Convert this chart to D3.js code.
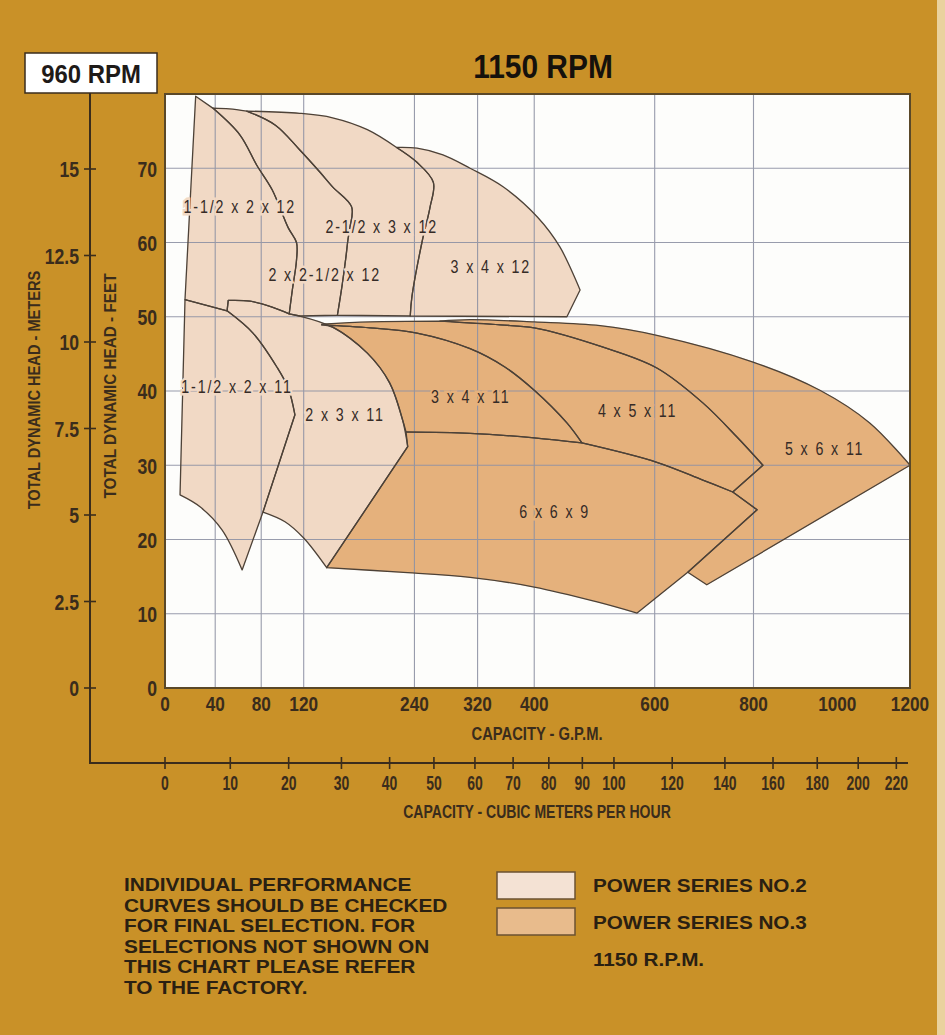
<!DOCTYPE html>
<html><head><meta charset="utf-8">
<script src="https://cdn.jsdelivr.net/npm/d3@7"></script>
<style>body{margin:0;background:#C99128;}svg{display:block}</style>
</head><body><svg id="c" width="945" height="1035"></svg>
<script>
// ---------- DATA ----------
const gpmTicks = [0,40,80,120,240,320,400,600,800,1000,1200];
const gpmGrid = [40,80,120,240,320,400,600,800];
const feetTicks = [0,10,20,30,40,50,60,70];
const feetGrid = [10,20,30,40,50,60,70];
const meterTicks = [0,2.5,5,7.5,10,12.5,15];
const m3hTicks = [0,10,20,30,40,50,60,70,80,90,100,120,140,160,180,200,220];

// boundary edges of the coverage regions: [capacity GPM, head ft]
// 12" impeller group (Power Series No.2)
const edgeL12   = [[15.5,52.3],[24,79.7]];
const edgeT0    = [[24,79.7],[38,78.1]];
const edgeT1    = [[38,78.1],[52,78.0],[67,77.7]];
const edgeT2    = [[67,77.7],[116,77.4],[149,76.8],[186,75.2],[219,72.8]];
const edgeT3    = [[219,72.8],[243,72.7],[275,71.8],[310,70],[355,67.5],[405,63.4],[439,59.4],[471,53.6]];
const edgeR3    = [[471,53.6],[450,50]];
const edgeD1    = [[38,78.1],[61,74.5],[76,70.4],[90,67.1],[105,62],[113,60],[113,57.6],[109,53.6],[106,50.4]];
const edgeD2    = [[67,77.7],[93,75.8],[116,72.5],[136,69.5],[149,67.5],[169,64.8],[167,61.9],[165,60.3],[163,58.1],[159,54.3],[154,50.2]];
const edgeD3    = [[219,72.8],[243,70.8],[263,68.1],[259,64.8],[249,60],[237,52.7],[235,50.1]];
const edgeB12a  = [[450,50],[235,50.1]];
const edgeB12b  = [[235,50.1],[154,50.2]];
const edgeB12c  = [[154,50.2],[116,50.1]];
// 11" small pumps (Power Series No.2)
const edgeJog   = [[50,50.8],[51,52.2]];
const edgeT11b1 = [[51,52.2],[70,52.1],[90,51.3],[106,50.4]];
const edgeT11b2 = [[106,50.4],[116,50.1]];
const edgeT11c  = [[116,50.1],[149,48.6],[186,45.1],[211,41.1],[226,36.1],[232,32.5]];
const edgeT11a1 = [[15.5,52.3],[50,50.8]];
const edgeT11a2 = [[50,50.8],[72.6,47.8],[94.5,43.2],[105,40.4],[111.5,36.8]];
const edgeR11a1 = [[111.5,36.8],[81.6,23.7]];
const edgeR11a2 = [[81.6,23.7],[63,15.9]];
const edgeB11a  = [[63,15.9],[45.7,21.3],[27.5,24.4],[11.6,26]];
const edgeL11a  = [[11.6,26],[15.5,52.3]];
const edgeR2x3  = [[232,32.5],[143,16.2]];
const edgeB2x3  = [[143,16.2],[120,20.2],[102,22.4],[81.6,23.7]];
// Power Series No.3
const edgeTop5a = [[138,49],[189,49.3],[271,49.4]];
const edgeTop5b = [[271,49.4],[310,49.6],[400,49.3],[504,48.8],[604,47.5],[799,43.9],[956,40.1],[1086,35.7],[1200,30]];
const edgeR5a   = [[1200,30],[701,13.9]];
const edgeR5b   = [[701,13.9],[663,15.6]];
const edgeCurveB= [[271,49.4],[351,48.9],[400,48.5],[509,45.9],[604,43.1],[693,38.4],[764,33.8],[821,30]];
const edgeCurveA= [[138,48.9],[189,48.5],[243,47.8],[310,45.7],[358,43.2],[400,40.1],[450,35.7],[474,33]];
const edgeTip4  = [[821,30],[755,26.4]];
const edgeTop9a = [[230,34.5],[310,34.3],[400,33.7],[474,33]];
const edgeTop9b = [[474,33],[604,30.4],[693,28],[755,26.4]];
const edgeTop9c = [[755,26.4],[808,24]];
const edgeR9a   = [[808,24],[663,15.6]];
const edgeR9b   = [[663,15.6],[568,10.1]];
const edgeB9    = [[568,10.1],[499,11.6],[400,13.6],[310,14.9],[223,15.6],[143,16.2]];
const edgeL9a   = [[143,16.2],[232,32.5]];
const edgeL9b   = [[232,32.5],[230,34.5]];
const edgeL3x4  = [[230,34.5],[226,36.1],[211,41.1],[186,45.1],[149,48.6],[138,48.9]];
const edgeL4x5  = [[138,48.9],[138,49]];

const labelNames  = ["1-1/2 x 2 x 12","2-1/2 x 3 x 12","2 x 2-1/2 x 12","3 x 4 x 12","1-1/2 x 2 x 11","2 x 3 x 11","3 x 4 x 11","4 x 5 x 11","5 x 6 x 11","6 x 6 x 9"];
const labelGpm    = [61,202,141,338,58.5,162,311,569,968,431];
const labelFeet   = [64.8,62.1,55.6,56.7,40.5,36.8,39.2,37.3,32.2,23.7];
const labelSeries = [2,2,2,2,2,2,3,3,3,3];

const noteLines = ["INDIVIDUAL PERFORMANCE","CURVES SHOULD BE CHECKED","FOR FINAL SELECTION. FOR","SELECTIONS NOT SHOWN ON","THIS CHART PLEASE REFER","TO THE FACTORY."];
const legendNames = ["POWER SERIES NO.2","POWER SERIES NO.3"];

// ---------- STYLE / SCALES ----------
const GOLD="#C99128", LIGHT="#F1D9C5", DARK="#E5B17C", INK="#3a2c1c", EDGE="#4d4238", GRID="#8e92a4";
const sans = "'Liberation Sans',Arial,Helvetica,sans-serif";
const fillOf = s => s===2 ? LIGHT : DARK;
const rev = e => e.slice().reverse();

const x = d3.scaleSymlog().constant(420).domain([0,1200]).range([165,910]);
const y = d3.scaleLinear().domain([0,80]).range([688,94]);
const yM = d3.scaleLinear().domain([0,15]).range([688,169]);
const GPM_PER_M3H_960 = 4.4029*1150/960;
const xM = d3.scaleSymlog().constant(420/GPM_PER_M3H_960).domain([0,220]).range([165, x(220*GPM_PER_M3H_960)]);

const regions = [
  {name:"5x6x11", s:3, edges:[edgeTop5b, edgeR5a, edgeR5b, rev(edgeR9a), rev(edgeTop9c), rev(edgeTip4), rev(edgeCurveB)]},
  {name:"4x5x11", s:3, edges:[edgeTop5a, edgeCurveB, edgeTip4, rev(edgeTop9b), rev(edgeCurveA), edgeL4x5]},
  {name:"3x4x11", s:3, edges:[edgeCurveA, rev(edgeTop9a), edgeL3x4]},
  {name:"6x6x9",  s:3, edges:[edgeTop9a, edgeTop9b, edgeTop9c, edgeR9a, edgeR9b, edgeB9, edgeL9a, edgeL9b]},
  {name:"2x3x11", s:2, edges:[edgeJog, edgeT11b1, edgeT11b2, edgeT11c, edgeR2x3, edgeB2x3, rev(edgeR11a1), rev(edgeT11a2)]},
  {name:"1-1/2x2x11", s:2, edges:[edgeT11a1, edgeT11a2, edgeR11a1, edgeR11a2, edgeB11a, edgeL11a]},
  {name:"3x4x12", s:2, edges:[edgeT3, edgeR3, edgeB12a, rev(edgeD3)]},
  {name:"2-1/2x3x12", s:2, edges:[edgeT2, edgeD3, edgeB12b, rev(edgeD2)]},
  {name:"2x2-1/2x12", s:2, edges:[edgeT1, edgeD2, edgeB12c, rev(edgeT11b2), rev(edgeD1)]},
  {name:"1-1/2x2x12", s:2, edges:[edgeL12, edgeT0, edgeD1, rev(edgeT11b1), rev(edgeJog), rev(edgeT11a1)]}
];
const seg = d3.line().x(d=>x(d[0])).y(d=>y(d[1])).curve(d3.curveCatmullRom.alpha(0.5));
const regionPath = r => r.edges.map((e,i)=>{ const s = seg(e); return i===0 ? s : s.replace(/^M[^A-Za-z]*/,''); }).join('') + 'Z';

function ctext(sel, px, py, txt, size, sx, o={}){
  return sel.append("text").attr("transform",`translate(${px},${py}) scale(${sx},1)`)
    .attr("text-anchor",o.anchor||"middle").attr("font-family",o.family||sans).attr("font-size",size)
    .attr("font-weight",o.weight||"bold").attr("fill",o.fill||INK).attr("letter-spacing",o.ls||0).text(txt);
}

const svg = d3.select("#c");
svg.append("rect").attr("width",945).attr("height",1035).attr("fill",GOLD);
svg.append("rect").attr("x",937).attr("width",8).attr("height",1035).attr("fill","#EAD29E");

// plot area
svg.append("rect").attr("x",x(0)).attr("y",y(80)).attr("width",x(1200)-x(0)).attr("height",y(0)-y(80)).attr("fill","#FDFDFB");

svg.append("g").selectAll("path").data(regions).join("path")
  .attr("d",regionPath).attr("fill",d=>fillOf(d.s)).attr("stroke",d=>fillOf(d.s)).attr("stroke-width",0.6);

// grid
const gGrid = svg.append("g").attr("stroke",GRID).attr("stroke-width",1.1).attr("opacity",0.9);
gGrid.selectAll(".v").data(gpmGrid).join("line").attr("x1",d=>x(d)).attr("x2",d=>x(d)).attr("y1",y(80)).attr("y2",y(0));
gGrid.selectAll(".h").data(feetGrid).join("line").attr("y1",d=>y(d)).attr("y2",d=>y(d)).attr("x1",x(0)).attr("x2",x(1200));

// outlines
svg.append("g").selectAll("path").data(regions).join("path")
  .attr("d",regionPath).attr("fill","none").attr("stroke",EDGE).attr("stroke-width",1.3).attr("stroke-linejoin","round");

// region labels
const gl = svg.append("g");
labelNames.forEach((t,i)=>{
  ctext(gl, x(labelGpm[i]), y(labelFeet[i])+6, t, 19, 0.75, {weight:"normal", fill:"#352b27", ls:2.5})
    .attr("stroke",fillOf(labelSeries[i])).attr("stroke-width",5).attr("paint-order","stroke");
});

// border
svg.append("rect").attr("x",x(0)).attr("y",y(80)).attr("width",x(1200)-x(0)).attr("height",y(0)-y(80))
  .attr("fill","none").attr("stroke","#5a4828").attr("stroke-width",2);

// feet axis
const gy = svg.append("g").attr("transform",`translate(${x(0)},0)`)
  .call(d3.axisLeft(y).tickValues(feetTicks).tickSize(0).tickPadding(10));
gy.select(".domain").remove();
gy.selectAll("text").attr("font-family",sans).attr("font-size",22).attr("font-weight","bold").attr("fill",INK)
  .attr("dy","0.36em").attr("transform","scale(0.8,1)");

// gpm axis
const gx = svg.append("g").attr("transform",`translate(0,${y(0)})`)
  .call(d3.axisBottom(x).tickValues(gpmTicks).tickSize(0).tickPadding(8).tickFormat(d3.format("d")));
gx.select(".domain").remove();
gx.selectAll("text").attr("font-family",sans).attr("font-size",21).attr("font-weight","bold").attr("fill",INK)
  .attr("transform","scale(0.82,1)");
gx.selectAll(".tick").attr("transform",d=>`translate(${x(d)},0)`);
gx.selectAll("text").attr("x",0);

ctext(svg, 537, 740, "CAPACITY - G.P.M.", 18, 0.82);

// metric (960 RPM) axes
const axX = 90, axY = 763;
svg.append("path").attr("d",`M${axX},93V${axY}H908`).attr("fill","none").attr("stroke",INK).attr("stroke-width",2);
const gm = svg.append("g");
gm.selectAll("line").data(meterTicks).join("line").attr("x1",axX-6).attr("x2",axX+6)
  .attr("y1",d=>yM(d)).attr("y2",d=>yM(d)).attr("stroke",INK).attr("stroke-width",1.6);
meterTicks.forEach(v=>ctext(gm, axX-11, yM(v)+8, d3.format("~g")(v), 22, 0.8, {anchor:"end"}));
const gq = svg.append("g");
gq.selectAll("line").data(m3hTicks).join("line").attr("x1",d=>xM(d)).attr("x2",d=>xM(d))
  .attr("y1",axY-6).attr("y2",axY+6).attr("stroke",INK).attr("stroke-width",1.6);
m3hTicks.forEach(v=>ctext(gq, xM(v), axY+27, String(v), 20, 0.7));
ctext(svg, 537, 818, "CAPACITY - CUBIC METERS PER HOUR", 18, 0.78);

ctext(svg, 0, 0, "TOTAL DYNAMIC HEAD - METERS", 17, 0.86).attr("transform","translate(40,390) rotate(-90) scale(0.86,1)");
ctext(svg, 0, 0, "TOTAL DYNAMIC HEAD - FEET", 17, 0.9).attr("transform","translate(116,386) rotate(-90) scale(0.9,1)");

// titles
svg.append("rect").attr("x",25).attr("y",53).attr("width",132).attr("height",40).attr("fill","#FFFFFF").attr("stroke","#3a2c1c").attr("stroke-width",1.5);
ctext(svg, 91, 83, "960 RPM", 26, 0.92, {fill:"#1e1a18"});
ctext(svg, 543, 78, "1150 RPM", 34, 0.88, {fill:"#15110c"});

// note
const gn = svg.append("g");
noteLines.forEach((t,i)=>ctext(gn, 124, 891+i*20.6, t, 17.5, 1.19, {anchor:"start", fill:"#2a2012"}));

// legend
const lg = svg.append("g");
lg.selectAll("rect").data(legendNames).join("rect").attr("x",497).attr("y",(d,i)=>872+i*36).attr("width",78).attr("height",27)
  .attr("fill",(d,i)=>i===0?"#F4E2D4":"#E8BB8C").attr("stroke","#6b5232").attr("stroke-width",1.5);
legendNames.concat(["1150 R.P.M."]).forEach((t,i)=>ctext(lg, 593, 892+i*37, t, 18, 1.15, {anchor:"start", fill:"#2a2012"}));
</script></body></html>
